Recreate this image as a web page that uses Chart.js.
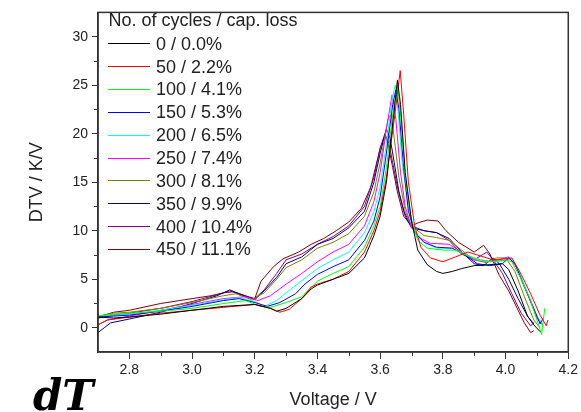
<!DOCTYPE html>
<html>
<head>
<meta charset="utf-8">
<script src="https://cdn.jsdelivr.net/npm/chart.js@4.4.1/dist/chart.umd.min.js"></script>
<style>
  html, body { margin: 0; padding: 0; background: #fff; }
  #wrap { width: 581px; height: 412px; position: relative; }
</style>
</head>
<body>
<div id="wrap"><canvas id="dtvPlot" width="581" height="412"></canvas></div>
<script>
const cycles = [0, 50, 100, 150, 200, 250, 300, 350, 400, 450];
const capLoss = ['0.0%', '2.2%', '4.1%', '5.3%', '6.5%', '7.4%', '8.1%', '9.9%', '10.4%', '11.1%'];
const xTicks = [2.8, 3.0, 3.2, 3.4, 3.6, 3.8, 4.0, 4.2];
const yTicks = [0, 5, 10, 15, 20, 25, 30];

// DTV curves as [voltage, DTV] pairs, one per ageing step
const dtv0 = [[2.70, 1.1], [2.75, 1.0], [2.80, 1.1], [2.90, 1.4], [3.00, 1.8], [3.10, 2.2], [3.20, 2.4], [3.25, 2.0], [3.27, 1.7], [3.30, 2.0], [3.35, 3.0], [3.38, 4.0], [3.40, 4.4], [3.45, 5.0], [3.50, 5.6], [3.55, 7.2], [3.58, 9.5], [3.60, 11.5], [3.62, 15.0], [3.64, 21.0], [3.655, 25.5], [3.665, 23.0], [3.68, 16.0], [3.70, 11.0], [3.72, 8.0], [3.75, 6.5], [3.78, 5.8], [3.80, 5.6], [3.83, 5.8], [3.86, 6.1], [3.90, 6.4], [3.95, 6.5], [3.99, 6.6], [4.01, 6.0], [4.04, 3.8], [4.07, 1.2], [4.09, 0.3], [4.11, -0.4]];
const dtv50 = [[2.70, 0.3], [2.73, 0.8], [2.80, 1.1], [2.90, 1.5], [3.00, 1.8], [3.10, 2.1], [3.20, 2.4], [3.25, 2.0], [3.28, 1.6], [3.31, 1.9], [3.35, 3.0], [3.38, 4.2], [3.40, 4.5], [3.45, 5.0], [3.50, 5.8], [3.55, 7.8], [3.58, 10.0], [3.60, 12.0], [3.62, 15.5], [3.645, 21.5], [3.664, 26.5], [3.675, 22.0], [3.69, 15.0], [3.71, 10.5], [3.73, 8.3], [3.76, 7.2], [3.80, 6.8], [3.84, 7.3], [3.88, 7.8], [3.92, 7.4], [3.96, 7.0], [4.00, 7.1], [4.02, 7.2], [4.05, 5.5], [4.08, 3.5], [4.11, 1.3], [4.13, 0.2], [4.135, 0.8]];
const dtv100 = [[2.70, 1.2], [2.75, 1.4], [2.80, 1.5], [2.90, 1.7], [3.00, 2.0], [3.10, 2.5], [3.17, 2.8], [3.22, 2.2], [3.25, 2.1], [3.30, 2.6], [3.35, 3.2], [3.40, 4.8], [3.45, 5.6], [3.50, 6.3], [3.55, 8.3], [3.58, 10.5], [3.60, 12.5], [3.62, 16.5], [3.64, 22.0], [3.655, 25.0], [3.665, 22.0], [3.68, 15.5], [3.70, 11.0], [3.72, 9.0], [3.75, 8.2], [3.80, 8.0], [3.84, 8.0], [3.88, 7.4], [3.92, 7.0], [3.96, 6.8], [4.00, 7.0], [4.02, 6.8], [4.05, 5.0], [4.08, 2.8], [4.10, 0.8], [4.115, -0.7], [4.125, 2.0]];
const dtv150 = [[2.70, 1.1], [2.75, 1.2], [2.80, 1.3], [2.90, 1.7], [3.00, 2.2], [3.10, 2.8], [3.15, 3.0], [3.20, 2.6], [3.24, 2.2], [3.28, 2.6], [3.33, 3.5], [3.36, 4.5], [3.40, 5.5], [3.45, 6.3], [3.50, 7.0], [3.55, 9.0], [3.58, 11.0], [3.60, 13.5], [3.62, 18.0], [3.64, 23.0], [3.65, 24.5], [3.66, 22.5], [3.675, 16.5], [3.69, 12.0], [3.71, 9.8], [3.74, 8.8], [3.78, 8.3], [3.83, 8.2], [3.87, 7.5], [3.91, 6.6], [3.95, 6.4], [3.99, 6.6], [4.01, 7.2], [4.03, 6.6], [4.06, 4.2], [4.09, 2.0], [4.11, 0.4], [4.12, 1.0]];
const dtv200 = [[2.70, 1.2], [2.75, 1.3], [2.80, 1.4], [2.90, 1.8], [3.00, 2.3], [3.10, 2.9], [3.15, 3.1], [3.20, 2.7], [3.23, 2.2], [3.27, 2.8], [3.30, 3.6], [3.34, 4.6], [3.38, 5.6], [3.40, 6.1], [3.45, 7.0], [3.50, 7.8], [3.55, 9.8], [3.58, 12.0], [3.60, 14.5], [3.62, 19.0], [3.638, 23.5], [3.648, 25.0], [3.658, 22.0], [3.67, 17.0], [3.69, 12.5], [3.71, 10.0], [3.74, 8.8], [3.78, 8.2], [3.83, 8.2], [3.87, 7.6], [3.91, 7.0], [3.95, 6.8], [3.99, 6.9], [4.02, 7.1], [4.04, 6.0], [4.07, 3.6], [4.10, 1.2], [4.12, 0.3]];
const dtv250 = [[2.70, 0.3], [2.73, 0.8], [2.80, 1.2], [2.90, 1.8], [3.00, 2.4], [3.10, 3.0], [3.17, 3.2], [3.21, 2.8], [3.25, 3.3], [3.30, 4.5], [3.35, 5.6], [3.40, 6.8], [3.45, 7.8], [3.50, 8.6], [3.55, 10.5], [3.58, 13.0], [3.60, 16.0], [3.62, 20.5], [3.638, 24.0], [3.65, 21.5], [3.665, 16.0], [3.68, 12.5], [3.70, 10.3], [3.73, 9.2], [3.76, 8.7], [3.82, 8.6], [3.86, 7.8], [3.90, 7.0], [3.94, 6.8], [3.98, 7.0], [4.01, 7.3], [4.04, 6.0], [4.07, 3.5], [4.10, 1.0], [4.12, 0.2]];
const dtv300 = [[2.70, 1.2], [2.75, 1.5], [2.80, 1.6], [2.90, 2.0], [3.00, 2.6], [3.10, 3.3], [3.14, 3.5], [3.19, 2.9], [3.23, 3.6], [3.27, 5.0], [3.30, 6.2], [3.35, 7.0], [3.40, 8.2], [3.45, 8.8], [3.50, 9.7], [3.55, 11.5], [3.58, 14.0], [3.60, 17.0], [3.625, 21.5], [3.635, 22.0], [3.645, 19.5], [3.66, 15.5], [3.68, 12.0], [3.70, 10.5], [3.74, 9.5], [3.78, 9.3], [3.82, 9.0], [3.86, 8.0], [3.90, 7.0], [3.94, 6.7], [3.97, 7.2], [4.00, 7.2], [4.03, 5.8], [4.06, 3.2], [4.09, 0.8], [4.11, 0.0]];
const dtv350 = [[2.70, -0.5], [2.72, 0.0], [2.74, 0.5], [2.80, 0.9], [2.90, 1.6], [3.00, 2.5], [3.08, 3.3], [3.12, 3.9], [3.16, 3.4], [3.20, 2.9], [3.23, 3.8], [3.27, 5.2], [3.30, 6.6], [3.35, 7.3], [3.40, 8.6], [3.45, 9.2], [3.50, 10.3], [3.55, 12.0], [3.58, 15.0], [3.60, 18.0], [3.62, 20.5], [3.632, 19.5], [3.645, 17.0], [3.66, 14.0], [3.68, 11.5], [3.70, 10.3], [3.74, 10.0], [3.78, 9.8], [3.82, 9.2], [3.86, 7.8], [3.90, 6.6], [3.93, 6.4], [3.96, 7.2], [3.98, 6.6], [4.01, 5.0], [4.04, 3.0], [4.07, 1.2], [4.09, 0.4]];
const dtv400 = [[2.70, 1.0], [2.75, 1.3], [2.80, 1.5], [2.90, 2.0], [3.00, 2.7], [3.08, 3.4], [3.12, 3.8], [3.16, 3.4], [3.20, 3.0], [3.23, 3.9], [3.27, 5.6], [3.30, 7.0], [3.35, 7.6], [3.40, 8.6], [3.45, 9.4], [3.50, 10.5], [3.55, 12.5], [3.58, 15.5], [3.60, 18.5], [3.615, 20.0], [3.628, 19.0], [3.64, 17.0], [3.655, 14.5], [3.675, 12.0], [3.70, 10.5], [3.74, 10.0], [3.78, 9.8], [3.82, 9.0], [3.86, 7.6], [3.90, 7.0], [3.94, 7.8], [3.96, 7.0], [3.99, 5.6], [4.02, 3.5], [4.05, 1.5], [4.08, 0.2], [4.09, 0.5]];
const dtv450 = [[2.70, 1.1], [2.75, 1.6], [2.80, 1.8], [2.90, 2.5], [3.00, 3.0], [3.06, 3.3], [3.10, 3.6], [3.13, 3.7], [3.17, 3.2], [3.20, 3.0], [3.22, 4.8], [3.26, 6.3], [3.29, 7.1], [3.34, 7.8], [3.38, 8.6], [3.42, 9.2], [3.46, 10.0], [3.50, 10.9], [3.54, 12.3], [3.57, 14.5], [3.60, 18.5], [3.615, 19.8], [3.625, 19.0], [3.64, 16.5], [3.655, 14.0], [3.675, 11.5], [3.70, 10.5], [3.72, 10.8], [3.75, 11.1], [3.785, 11.0], [3.81, 10.0], [3.85, 8.8], [3.90, 7.8], [3.93, 8.5], [3.95, 7.6], [3.98, 5.4], [4.01, 3.8], [4.04, 1.8], [4.06, 0.5], [4.08, -0.5], [4.09, -0.3]];

const curves = [dtv0, dtv50, dtv100, dtv150, dtv200, dtv250, dtv300, dtv350, dtv400, dtv450];
const lineColors = ['#000000', '#ff0000', '#00ff00', '#0000ff', '#00ffff', '#ff00ff', '#808000', '#000080', '#800080', '#800000'];

const FONT = '"Liberation Sans", Arial, sans-serif';
const INK = '#222';

// frame, minor ticks, legend box and the stray "dT" under the plot
const extras = {
  id: 'extras',
  afterDraw(chart) {
    const ctx = chart.ctx;
    const { left, right, top, bottom } = chart.chartArea;
    const xs = chart.scales.x, ys = chart.scales.y;
    ctx.save();

    ctx.strokeStyle = '#333';
    ctx.lineWidth = 1.5;
    ctx.strokeRect(left, top, right - left, bottom - top);

    ctx.lineWidth = 1;
    ctx.beginPath();
    for (let i = 1; i < 8; i++) {
      const px = Math.round(xs.getPixelForValue(2.7 + 0.2 * i)) + 0.5;
      ctx.moveTo(px, bottom);
      ctx.lineTo(px, bottom + 4);
    }
    for (let i = 0; i < 6; i++) {
      const py = Math.round(ys.getPixelForValue(2.5 + 5 * i)) + 0.5;
      ctx.moveTo(left, py);
      ctx.lineTo(left - 4, py);
    }
    ctx.stroke();

    ctx.fillStyle = INK;
    ctx.font = '18px ' + FONT;
    ctx.textBaseline = 'alphabetic';
    ctx.fillText('No. of cycles / cap. loss', 108.5, 26.4);
    chart.data.datasets.forEach((ds, i) => {
      const y = 43.3 + i * 22.85;
      ctx.strokeStyle = ds.borderColor;
      ctx.lineWidth = 1;
      ctx.beginPath();
      ctx.moveTo(108, Math.round(y) + 0.5);
      ctx.lineTo(150, Math.round(y) + 0.5);
      ctx.stroke();
      ctx.fillText(ds.label, 156, y + 6.4);
    });

    ctx.fillStyle = '#000';
    ctx.font = 'bold italic 42px "DejaVu Serif", serif';
    ctx.fillText('dT', 33, 410);
    ctx.restore();
  }
};

new Chart(document.getElementById('dtvPlot'), {
  type: 'scatter',
  data: {
    datasets: curves.map((pts, i) => ({
      label: cycles[i] + ' / ' + capLoss[i],
      data: pts.map(p => ({ x: p[0], y: p[1] })),
      showLine: true,
      borderColor: lineColors[i],
      borderWidth: 1,
      pointRadius: 0,
      tension: 0,
      fill: false
    }))
  },
  options: {
    responsive: false,
    animation: false,
    events: [],
    layout: { padding: { left: 0, right: 11, top: 3, bottom: 0 } },
    plugins: {
      legend: { display: false },
      tooltip: { enabled: false }
    },
    scales: {
      x: {
        type: 'linear',
        min: 2.7,
        max: 4.2,
        afterBuildTicks: s => { s.ticks = xTicks.map(v => ({ value: v })); },
        afterFit: s => { s.height = 60; },
        grid: { drawOnChartArea: false, tickLength: 7, tickColor: '#333', tickWidth: 1 },
        border: { display: true, color: '#333', width: 1.5 },
        ticks: { color: INK, font: { family: FONT, size: 14 }, padding: 3, maxRotation: 0, callback: v => v.toFixed(1) },
        title: { display: true, text: 'Voltage / V', color: INK, font: { family: FONT, size: 18 }, padding: { top: 0, bottom: 1 } }
      },
      y: {
        type: 'linear',
        min: -2.5,
        max: 32.5,
        afterBuildTicks: s => { s.ticks = yTicks.map(v => ({ value: v })); },
        afterFit: s => { s.width = 98; },
        grid: { drawOnChartArea: false, tickLength: 6, tickColor: '#333', tickWidth: 1 },
        border: { display: true, color: '#333', width: 1.5 },
        ticks: { color: INK, font: { family: FONT, size: 14 }, padding: 4, callback: v => String(v) },
        title: { display: true, text: 'DTV / K/V', color: INK, font: { family: FONT, size: 18 }, padding: { top: 26, bottom: 0 } }
      }
    }
  },
  plugins: [extras]
});
</script>
</body>
</html>
